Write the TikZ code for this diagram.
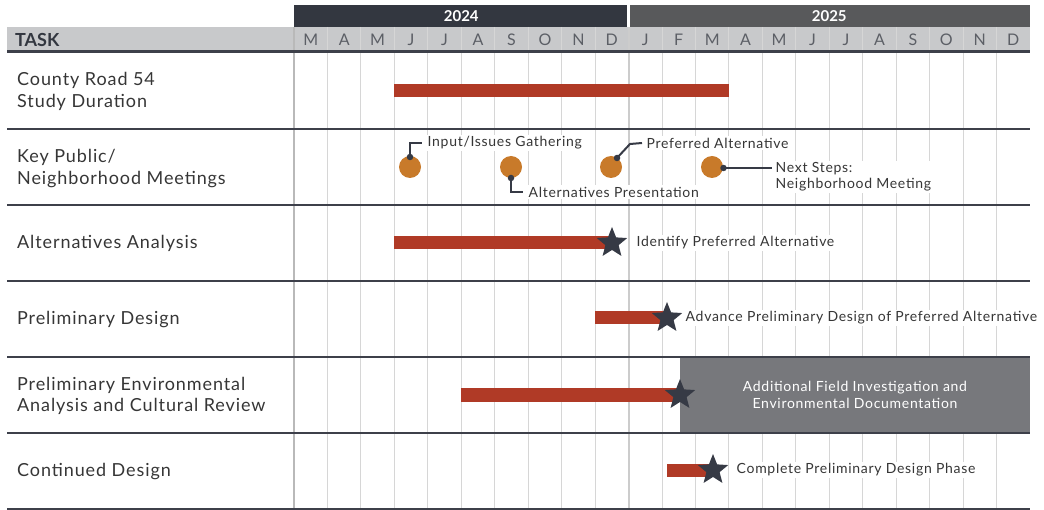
\documentclass[tikz,border=0pt]{standalone}
\usepackage{fontspec}
\setmainfont{Lato}
\newfontfamily\spaced[LetterSpace=5]{Lato}
\usetikzlibrary{math}
\usetikzlibrary{shapes.geometric}
\definecolor{rowline}{HTML}{3D404A}
\definecolor{yearA}{HTML}{333740}
\definecolor{yearB}{HTML}{58595B}
\definecolor{headgray}{HTML}{C8C9CB}
\definecolor{gridgray}{HTML}{D6D6D6}
\definecolor{barred}{HTML}{B03A26}
\definecolor{meetorange}{HTML}{C87A2A}
\definecolor{stardark}{HTML}{363A45}
\definecolor{boxgray}{HTML}{77787C}
\definecolor{txtgray}{HTML}{363636}
\tikzset{
  taskname/.style={anchor=west,align=left,text=txtgray,font=\spaced\fontsize{18}{21.5}\selectfont,inner sep=0pt},
  monthname/.style={text=yearA!80,font=\spaced\fontsize{16}{16}\selectfont},
  yearname/.style={text=white,font=\bfseries\fontsize{15}{15}\selectfont},
  bar/.style={fill=barred},
  milestone/.style={star,star points=5,star point ratio=2.3,fill=stardark,minimum size=32pt,inner sep=0pt},
  note/.style={anchor=west,align=left,fill=white,text=txtgray,font=\spaced\fontsize{14}{16}\selectfont,inner sep=1.5pt},
  meeting/.style={circle,fill=meetorange,minimum size=22pt,inner sep=0pt},
  pin/.style={circle,fill=stardark,minimum size=6.5pt,inner sep=0pt},
  lead/.style={draw=stardark,line width=2pt},
}

\begin{document}
\begin{tikzpicture}[x=1pt,y=-1pt]
\useasboundingbox (0,0) rectangle (1044,510);
\tikzmath{
\xz = 294;
\xe = 1030;
\mw = (\xe-\xz)/22;
\xl = 7;
}
%%%% years
\fill[yearA] (\xz,5) rectangle (\xz+10*\mw-1.5,27);
\fill[yearB] (\xz+10*\mw+1.5,5) rectangle (\xe,27);
\node[yearname] (y24) at (\xz+5*\mw,16) {2024};
\node[yearname] (y25) at (\xz+16*\mw,16) {2025};
%%%% month header
\fill[headgray] (\xl,27) rectangle (\xe,52);
\node[anchor=west,text=yearA,font=\bfseries\fontsize{18}{18}\selectfont,inner sep=0pt] (task) at (15,40) {TASK};
\foreach \m [count=\i from 0] in {M,A,M,J,J,A,S,O,N,D,J,F,M,A,M,J,J,A,S,O,N,D} {
    \node[monthname] (mo\i) at (\xz+\i*\mw+0.5*\mw,40) {\m};
}
%%%% grid
\foreach \i in {1,...,21} {
    \draw[gridgray,line width=1pt] (\xz+\i*\mw,27) -- (\xz+\i*\mw,509);
}
\draw[gray!55,line width=2.5pt] (\xz,27) -- (\xz,509);
\draw[gray!40,line width=2pt] (\xz+10*\mw,27) -- (\xz+10*\mw,509);
%%%% field box
\node[fill=boxgray,text=white,align=center,minimum width=350pt,minimum height=76pt,inner sep=0pt,
      font=\spaced\fontsize{14}{17.5}\selectfont] (fieldbox) at (855,395)
      {Additional Field Investigation and\\Environmental Documentation};
%%%% row lines
\draw[rowline,line width=3pt] (\xl,52) -- (\xe,52);
\foreach \y in {129,205,281,357,433,509} {
    \draw[rowline,line width=2.5pt] (\xl,\y) -- (\xe,\y);
}
%%%% tasks
\node[taskname] (t1) at (17,91.5) {County Road 54\\Study Duration};
\node[taskname] (t2) at (17,168.5) {Key Public/\\Neighborhood Meetings};
\node[taskname] (t3) at (17,243.5) {Alternatives Analysis};
\node[taskname] (t4) at (17,319.5) {Preliminary Design};
\node[taskname] (t5) at (17,396) {Preliminary Environmental\\Analysis and Cultural Review};
\node[taskname] (t6) at (17,471.5) {Continued Design};
%%%% bars
\fill[bar] (\xz+3*\mw,84) rectangle (\xz+13*\mw,97.5);
\fill[bar] (\xz+3*\mw,236) rectangle (612,249);
\fill[bar] (\xz+9*\mw,311.5) rectangle (667,324.5);
\fill[bar] (\xz+5*\mw,388.5) rectangle (680,401.5);
\fill[bar] (667,463.5) rectangle (713,476.5);
%%%% stars
\node[milestone] (s3) at (612,243) {};
\node[milestone] (s4) at (667,318) {};
\node[milestone] (s5) at (680,395) {};
\node[milestone] (s6) at (713,470) {};
\node[note] (n3) at (635,243) {Identify Preferred Alternative};
\node[note] (n4) at (684,318) {Advance Preliminary Design of Preferred Alternative};
\node[note] (n6) at (735,470) {Complete Preliminary Design Phase};
%%%% meetings
\node[meeting] (mt1) at (410,167) {};
\node[meeting] (mt2) at (511,167) {};
\node[meeting] (mt3) at (611,167) {};
\node[meeting] (mt4) at (712,167) {};
\node[pin] (p1) at (410,157) {};
\node[pin] (p2) at (511,178) {};
\node[pin] (p3) at (617,158) {};
\node[pin] (p4) at (723.5,168) {};
\node[note] (m1) at (426,143) {Input/Issues Gathering};
\node[note] (m2) at (527,192) {Alternatives Presentation};
\node[note] (m3) at (645,143) {Preferred Alternative};
\node[note] (m4) at (774,177) {Next Steps:\\Neighborhood Meeting};
\coordinate (k3) at (630,144);
\draw[lead] (p1.center) |- ([xshift=-4pt]m1.west);
\draw[lead] (p2.center) |- ([xshift=-4pt]m2.west);
\draw[lead] (p3.center) -- (k3) -- ([xshift=-3pt]m3.west);
\draw[lead] (p4.center) -- ([xshift=-2pt]m4.west |- p4.center);
\end{tikzpicture}
\end{document}
